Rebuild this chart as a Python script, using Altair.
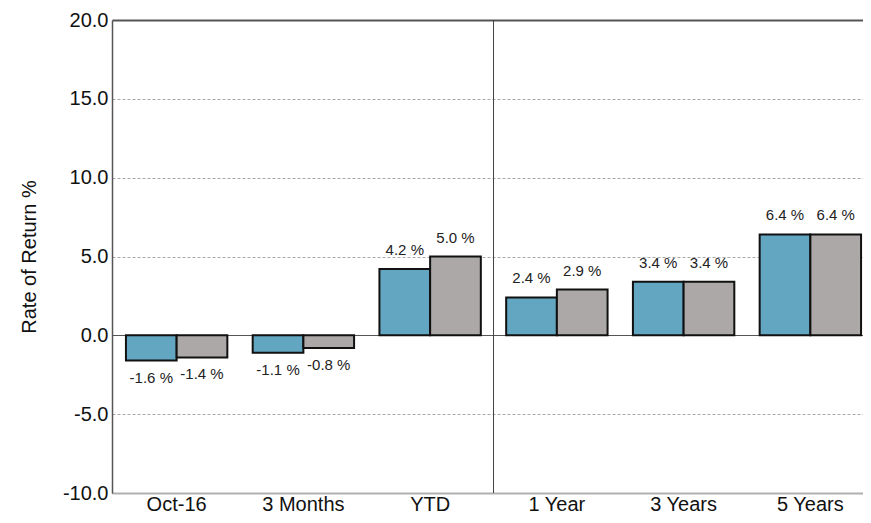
import altair as alt
import pandas as pd

categories = ["Oct-16", "3 Months", "YTD", "1 Year", "3 Years", "5 Years"]
series_names = ["Portfolio", "Benchmark"]
portfolio = [-1.6, -1.1, 4.2, 2.4, 3.4, 6.4]
benchmark = [-1.4, -0.8, 5.0, 2.9, 3.4, 6.4]
y_ticks = [-10, -5, 0, 5, 10, 15, 20]
divider_after = ["YTD"]
colors = ["#63a6c2", "#aba8a7"]

rows = []
for c, p, b in zip(categories, portfolio, benchmark):
    rows.append({"period": c, "series": series_names[0], "value": p})
    rows.append({"period": c, "series": series_names[1], "value": b})
df = pd.DataFrame(rows)
div_df = pd.DataFrame({"period": divider_after})

FONT = "Liberation Sans, Arial, sans-serif"

x_scale = alt.Scale(domain=categories, range=[0, 763], paddingInner=0.2, paddingOuter=0.11)
y_scale = alt.Scale(domain=[-10, 20], nice=False, zero=False)
off_scale = alt.Scale(domain=series_names, paddingInner=0, paddingOuter=0)

x_axis = alt.Axis(labelFontSize=20, labelFont=FONT, labelColor="#111", labelAngle=0,
                  ticks=False, labelPadding=1, labelBaseline="top",
                  domainColor="#b0b0b0", domainWidth=2,
                  grid=False, title=None)
y_axis = alt.Axis(values=y_ticks,
                  labelExpr="(datum.value < 0 ? '-' : '') + format(abs(datum.value), '.1f')",
                  labelFontSize=20, labelFont=FONT,
                  labelColor="#111", ticks=False, labelPadding=4,
                  domainColor="#555", domainWidth=1.5,
                  grid=True,
                  gridColor=alt.condition("datum.value == 0 || datum.value == 20",
                                          alt.value("#555"), alt.value("#a8a8a8")),
                  gridDash=alt.condition("datum.value == 0 || datum.value == 20",
                                         alt.value([]), alt.value([3, 2])),
                  gridWidth=alt.condition("datum.value == 20", alt.value(2), alt.value(1)),
                  title="Rate of Return %", titleFontSize=20, titleFont=FONT,
                  titleFontWeight="normal", titleColor="#111", titlePadding=23)

base = alt.Chart(df)

bars = base.mark_bar(stroke="#111", strokeWidth=2).encode(
    x=alt.X("period:N", scale=x_scale, sort=categories, axis=x_axis, title=None),
    xOffset=alt.XOffset("series:N", scale=off_scale, sort=series_names),
    y=alt.Y("value:Q", scale=y_scale, axis=y_axis),
    color=alt.Color("series:N", scale=alt.Scale(domain=series_names, range=colors), legend=None),
)

lab = base.transform_calculate(
    label="(datum.value < 0 ? '-' : '') + format(abs(datum.value), '.1f') + ' %'"
)

pos_text = lab.transform_filter("datum.value >= 0").mark_text(
    fontSize=15, font=FONT, color="#222", baseline="alphabetic", dy=-14
).encode(
    x=alt.X("period:N", scale=x_scale, sort=categories, axis=x_axis, title=None),
    xOffset=alt.XOffset("series:N", scale=off_scale, sort=series_names),
    y=alt.Y("value:Q", scale=y_scale, axis=y_axis),
    text="label:N",
)

neg_text = lab.transform_filter("datum.value < 0").mark_text(
    fontSize=15, font=FONT, color="#222", baseline="top", dy=10
).encode(
    x=alt.X("period:N", scale=x_scale, sort=categories, axis=x_axis, title=None),
    xOffset=alt.XOffset("series:N", scale=off_scale, sort=series_names),
    y=alt.Y("value:Q", scale=y_scale, axis=y_axis),
    text="label:N",
)

divider = alt.Chart(div_df).mark_rule(color="#444", strokeWidth=1, xOffset=12.7).encode(
    x=alt.X("period:N", scale=x_scale, sort=categories, axis=x_axis, title=None,
            bandPosition=1),
)

chart = alt.layer(bars, divider, pos_text, neg_text).properties(
    width=766, height=473,
    autosize=alt.AutoSizeParams(type="none"),
    padding={"left": 104, "top": 12, "right": -15, "bottom": 22},
).configure_view(strokeWidth=0).configure(background="white")

chart.save("out.html", embed_options={"renderer": "svg", "actions": False})
